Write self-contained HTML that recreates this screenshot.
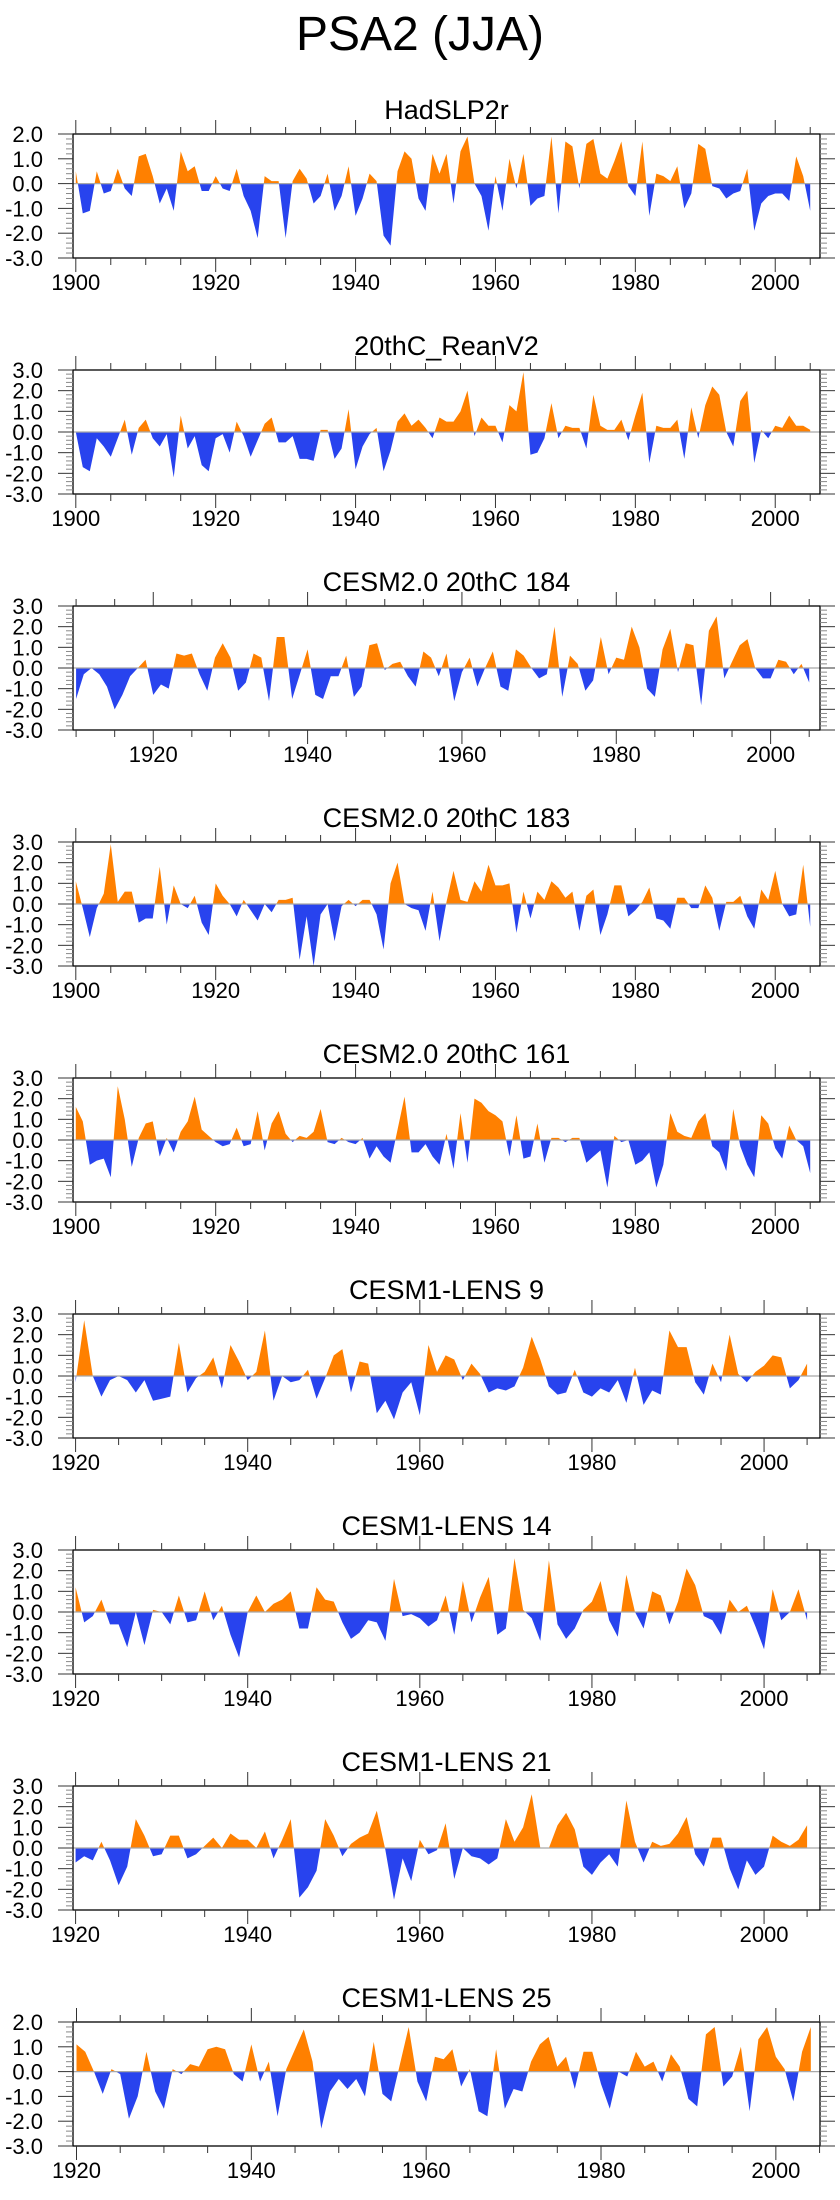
<!DOCTYPE html>
<html><head><meta charset="utf-8">
<style>
html,body{margin:0;padding:0;background:#fff;}
svg{display:block;font-family:"Liberation Sans",Arial,sans-serif;}
</style></head>
<body>
<svg id="fig" width="840" height="2200" viewBox="0 0 840 2200" xmlns="http://www.w3.org/2000/svg">
<text x="420" y="50" font-size="48" text-anchor="middle" fill="#000">PSA2 (JJA)</text>
</svg>
<script>
const titles = ["HadSLP2r","20thC_ReanV2","CESM2.0 20thC 184","CESM2.0 20thC 183","CESM2.0 20thC 161","CESM1-LENS 9","CESM1-LENS 14","CESM1-LENS 21","CESM1-LENS 25"];
const startYears = [1900,1900,1910,1900,1900,1920,1920,1920,1920];
const xTickLabels = [1900,1920,1940,1960,1980,2000];
const yTickLabels = [-3,-2,-1,0,1,2,3];

const hadslp2r = [
0.5,-1.2,-1.1,0.5,-0.4,-0.3,0.6,-0.2,-0.5,1.1,
1.2,0.3,-0.8,-0.2,-1.1,1.3,0.5,0.7,-0.3,-0.3,
0.3,-0.2,-0.3,0.6,-0.5,-1.1,-2.2,0.3,0.1,0.1,
-2.2,0.1,0.6,0.2,-0.8,-0.5,0.4,-1.1,-0.5,0.7,
-1.3,-0.6,0.4,0.1,-2.1,-2.5,0.5,1.3,1.0,-0.6,
-1.1,1.2,0.4,1.2,-0.8,1.3,1.9,0,-0.5,-1.9,
0.3,-1.1,1.0,-0.2,1.2,-0.9,-0.6,-0.5,1.9,-1.2,
1.7,1.5,-0.2,1.6,1.8,0.4,0.2,0.9,1.7,-0.1,
-0.5,1.7,-1.3,0.4,0.3,0.1,0.7,-1.0,-0.4,1.6,
1.4,-0.1,-0.2,-0.6,-0.4,-0.3,0.6,-1.9,-0.8,-0.5,
-0.4,-0.4,-0.7,1.1,0.3,-1.1];
const reanV2 = [
0,-1.7,-1.9,-0.3,-0.7,-1.2,-0.3,0.6,-1.1,0.2,
0.6,-0.3,-0.7,-0.1,-2.2,0.8,-0.8,-0.2,-1.6,-1.9,
-0.3,-0.1,-1.0,0.5,-0.2,-1.2,-0.4,0.4,0.7,-0.5,
-0.5,-0.2,-1.3,-1.3,-1.4,0.1,0.1,-1.3,-0.8,1.1,
-1.8,-0.7,-0.1,0.2,-1.9,-0.9,0.5,0.9,0.3,0.6,
0.2,-0.3,0.7,0.5,0.5,1.0,2.0,-0.2,0.7,0.3,
0.3,-0.5,1.3,1.0,2.9,-1.1,-1.0,-0.3,1.4,-0.3,
0.3,0.2,0.2,-0.8,1.8,0.3,0.1,0.1,0.6,-0.4,
0.8,1.9,-1.5,0.3,0.2,0.2,0.6,-1.3,1.2,-0.3,
1.3,2.2,1.8,0,-0.7,1.5,2.0,-1.5,0.1,-0.3,
0.3,0.2,0.8,0.3,0.3,0.1];
const cesm2_184 = [
-1.5,-0.3,0,-0.3,-0.9,-2.0,-1.3,-0.4,0,0.4,
-1.3,-0.8,-1.0,0.7,0.6,0.7,-0.3,-1.1,0.5,1.2,
0.5,-1.1,-0.7,0.7,0.5,-1.6,1.5,1.5,-1.5,-0.3,
0.9,-1.3,-1.5,-0.4,-0.4,0.6,-1.4,-0.9,1.1,1.2,
-0.1,0.2,0.3,-0.4,-0.9,0.8,0.5,-0.4,0.7,-1.6,
-0.2,0.5,-0.9,0,0.8,-0.9,-1.1,0.9,0.6,0,
-0.5,-0.3,2.0,-1.4,0.6,0.2,-1.1,-0.6,1.5,-0.3,
0.5,0.4,2.0,1.0,-1.0,-1.4,0.9,1.9,-0.2,1.2,
1.1,-1.8,1.8,2.5,-0.5,0.3,1.1,1.4,0,-0.5,
-0.5,0.4,0.3,-0.3,0.2,-0.7];
const cesm2_183 = [
1.1,-0.2,-1.6,-0.2,0.5,2.9,0.1,0.6,0.6,-0.9,
-0.7,-0.7,1.8,-1.0,0.9,0,-0.2,0.4,-0.9,-1.5,
1.0,0.4,0,-0.6,0.2,-0.3,-0.8,0,-0.4,0.2,
0.2,0.3,-2.7,-0.6,-3.0,-0.5,0,-1.8,-0.1,0.2,
-0.1,0.2,0.2,-0.5,-2.2,1.0,2.0,0,-0.2,-0.3,
-1.3,0.6,-1.8,0.1,1.6,0.2,0.1,1.1,0.6,1.9,
0.9,0.9,1.0,-1.4,0.6,-0.7,0.6,0.2,1.1,0.8,
0.3,0.6,-1.3,0.4,0.7,-1.5,-0.5,0.9,0.9,-0.6,
-0.3,0.1,0.8,-0.7,-0.8,-1.2,0.3,0.3,-0.2,-0.2,
0.9,0.3,-1.3,0.1,0.1,0.4,-0.6,-1.2,0.7,0.2,
1.6,0,-0.6,-0.5,1.9,-1.1];
const cesm2_161 = [
1.6,0.9,-1.2,-1.0,-0.9,-1.8,2.6,1.0,-1.3,0.1,
0.8,0.9,-0.8,0.1,-0.6,0.4,0.9,2.1,0.5,0.2,
-0.1,-0.3,-0.2,0.6,-0.3,-0.2,1.4,-0.5,0.8,1.4,
0.3,-0.1,0.2,0.1,0.4,1.5,-0.1,-0.2,0.1,-0.1,
-0.2,0.1,-0.9,-0.3,-0.8,-1.1,0.5,2.1,-0.6,-0.6,
-0.2,-0.8,-1.2,0.3,-1.4,1.3,-1.1,2.0,1.8,1.4,
1.2,0.9,-0.8,1.2,-0.9,-0.8,0.8,-1.1,0.1,0.1,
-0.1,0.1,0.1,-1.1,-0.8,-0.5,-2.3,0.2,-0.1,0,
-1.2,-1.0,-0.6,-2.3,-1.2,1.3,0.4,0.2,0.1,0.9,
1.3,-0.3,-0.6,-1.5,1.5,-0.3,-1.2,-1.8,1.2,0.8,
-0.4,-0.9,0.7,0,-0.3,-1.6];
const lens9 = [
-0.3,2.7,0.0,-1.0,-0.2,0,-0.2,-0.8,-0.2,-1.2,
-1.1,-1.0,1.6,-0.8,-0.1,0.2,0.9,-0.6,1.5,0.7,
-0.2,0.2,2.2,-1.2,0,-0.3,-0.2,0.3,-1.1,-0.1,
1.0,1.3,-0.8,0.7,0.6,-1.8,-1.2,-2.1,-0.8,-0.3,
-1.9,1.5,0.2,1.0,0.8,-0.2,0.6,0.1,-0.8,-0.6,
-0.7,-0.5,0.4,1.9,0.8,-0.5,-0.9,-0.8,0.3,-0.8,
-1.0,-0.6,-0.8,-0.2,-1.3,0.4,-1.4,-0.7,-0.9,2.2,
1.4,1.4,-0.3,-0.9,0.6,-0.3,2.0,0.1,-0.3,0.2,
0.5,1.0,0.9,-0.6,-0.2,0.6];
const lens14 = [
1.2,-0.5,-0.2,0.6,-0.6,-0.6,-1.7,0,-1.6,0.1,
0,-0.6,0.8,-0.5,-0.4,1.0,-0.4,0.3,-1.1,-2.2,
0,0.8,0,0.4,0.6,1.0,-0.8,-0.8,1.2,0.6,
0.5,-0.5,-1.3,-1.0,-0.4,-0.5,-1.4,1.6,-0.2,-0.1,
-0.3,-0.7,-0.4,0.8,-1.1,1.5,-0.5,0.7,1.7,-1.1,
-0.8,2.6,0.1,-0.3,-1.4,2.5,-0.6,-1.3,-0.8,0.1,
0.5,1.5,-0.4,-1.2,1.8,0,-0.8,1.0,0.8,-0.6,
0.5,2.1,1.3,-0.2,-0.4,-1.1,0.6,0,0.3,-0.7,
-1.8,1.1,-0.4,0,1.1,-0.4];
const lens21 = [
-0.7,-0.4,-0.6,0.3,-0.6,-1.8,-0.9,1.4,0.6,-0.4,
-0.3,0.6,0.6,-0.5,-0.3,0.1,0.5,0,0.7,0.4,
0.4,0,0.8,-0.5,0.4,1.4,-2.4,-1.9,-1.1,1.4,
0.6,-0.4,0.2,0.5,0.7,1.8,-0.1,-2.5,-0.5,-1.6,
0.4,-0.3,-0.1,1.2,-1.5,0,-0.4,-0.5,-0.8,-0.5,
1.4,0.3,1.0,2.6,0,0,1.1,1.7,0.9,-0.9,
-1.3,-0.7,-0.3,-0.9,2.3,0.3,-0.7,0.3,0.1,0.2,
0.7,1.5,-0.3,-0.9,0.5,0.5,-1.0,-2.0,-0.6,-1.3,
-0.9,0.6,0.3,0.1,0.4,1.1];
const lens25 = [
1.1,0.8,0,-0.9,0.1,-0.1,-1.9,-1.0,0.8,-0.8,
-1.5,0.1,-0.1,0.3,0.2,0.9,1.0,0.9,-0.1,-0.4,
1.1,-0.4,0.4,-1.8,0.1,0.9,1.7,0.4,-2.3,-0.8,
-0.3,-0.7,-0.3,-1.0,1.2,-0.9,-1.2,0.3,1.8,-0.4,
-1.2,0.6,0.5,0.9,-0.6,0.1,-1.6,-1.8,0.9,-1.5,
-0.7,-0.8,0.4,1.1,1.4,0.2,0.6,-0.7,0.8,0.8,
-0.5,-1.5,0,-0.2,0.8,0.2,0.4,-0.4,0.7,0.2,
-1.1,-1.4,1.5,1.8,-0.6,-0.2,1.0,-1.6,1.3,1.8,
0.6,0.1,-1.2,0.8,1.8];

const seriesList = [hadslp2r, reanV2, cesm2_184, cesm2_183, cesm2_161, lens9, lens14, lens21, lens25];
const xMins = [1899.6,1899.6,1909.6,1899.6,1899.6,1919.7,1919.7,1919.7,1919.6];
const xMaxs = [2006.4,2006.4,2006.4,2006.4,2006.4,2006.5,2006.5,2006.5,2005.05];
const yMins = [-3,-3,-3,-3,-3,-3,-3,-3,-3];
const yMaxs = [2,3,3,3,3,3,3,3,2];

const NS = "http://www.w3.org/2000/svg";
const svg = document.getElementById("fig");
const BOX_L = 73, BOX_R = 820, BOX_H = 124, TOP0 = 134, STEP = 236;
const ORANGE = "#ff8000", BLUE = "#2843ee";

function mk(tag, attrs, parent) {
  const el = document.createElementNS(NS, tag);
  for (const k in attrs) el.setAttribute(k, attrs[k]);
  parent.appendChild(el);
  return el;
}
function fmt(v) { return (v < 0 ? "-" : "") + Math.abs(v).toFixed(1); }

for (let p = 0; p < seriesList.length; p++) {
  const data = seriesList[p];
  const top = TOP0 + STEP * p, bot = top + BOX_H;
  const x0 = xMins[p], x1 = xMaxs[p], y0 = yMins[p], y1 = yMaxs[p];
  const xs = v => BOX_L + (v - x0) / (x1 - x0) * (BOX_R - BOX_L);
  const ys = v => bot - (v - y0) / (y1 - y0) * BOX_H;
  const zy = ys(0);

  const g = mk("g", {}, svg);
  
  

  const t = mk("text", {x: (BOX_L + BOX_R) / 2, y: top - 15, "font-size": 27, "text-anchor": "middle", fill: "#000"}, g);
  t.textContent = titles[p];
  
  

  let d = "M" + xs(startYears[p]).toFixed(2) + "," + zy.toFixed(2);
  data.forEach((v, i) => { d += " L" + xs(startYears[p] + i).toFixed(2) + "," + ys(v).toFixed(2); });
  d += " L" + xs(startYears[p] + data.length - 1).toFixed(2) + "," + zy.toFixed(2) + " Z";

  const defs = mk("defs", {}, g);
  const cpA = mk("clipPath", {id: "ca" + p}, defs);
  mk("rect", {x: BOX_L, y: top, width: BOX_R - BOX_L, height: zy - top}, cpA);
  const cpB = mk("clipPath", {id: "cb" + p}, defs);
  mk("rect", {x: BOX_L, y: zy, width: BOX_R - BOX_L, height: bot - zy}, cpB);

  const pos = mk("path", {d: d, fill: ORANGE, "clip-path": "url(#ca" + p + ")"}, g);
  
  
  const neg = mk("path", {d: d, fill: BLUE, "clip-path": "url(#cb" + p + ")"}, g);
  
  

  const zl = mk("line", {x1: BOX_L, x2: BOX_R, y1: zy, y2: zy, stroke: "#a8a8a8", "stroke-width": 1.2}, g);
  
  

  const box = mk("rect", {x: BOX_L, y: top, width: BOX_R - BOX_L, height: BOX_H, fill: "none", stroke: "#000", "stroke-width": 1.3}, g);
  
  

  for (let yr = Math.ceil(x0 / 5) * 5; yr <= x1; yr += 5) {
    const major = yr % 20 === 0;
    const L = major ? 14 : 7;
    const x = xs(yr);
    mk("line", {x1: x, x2: x, y1: top, y2: top - L, stroke: "#333", "stroke-width": 1}, g);
    mk("line", {x1: x, x2: x, y1: bot, y2: bot + L, stroke: "#333", "stroke-width": 1}, g);
  }
  xTickLabels.forEach(yr => {
    if (yr < x0 || yr > x1) return;
    const lab = mk("text", {x: xs(yr), y: bot + 32, "font-size": 22, "text-anchor": "middle", fill: "#000"}, g);
    lab.textContent = yr;
    
    
  });

  for (let k = Math.round(y0 * 5); k <= Math.round(y1 * 5); k++) {
    const v = k / 5;
    const major = k % 5 === 0;
    const L = major ? 15 : 7;
    const y = ys(v);
    mk("line", {x1: BOX_L, x2: BOX_L - L, y1: y, y2: y, stroke: major ? "#333" : "#888", "stroke-width": 1}, g);
    mk("line", {x1: BOX_R, x2: BOX_R + L, y1: y, y2: y, stroke: major ? "#333" : "#888", "stroke-width": 1}, g);
  }
  yTickLabels.forEach(v => {
    if (v < y0 || v > y1) return;
    const lab = mk("text", {x: 43, y: ys(v) + 8, "font-size": 22, "text-anchor": "end", fill: "#000"}, g);
    lab.textContent = fmt(v);
    
    
  });
}
</script>
</body></html>
